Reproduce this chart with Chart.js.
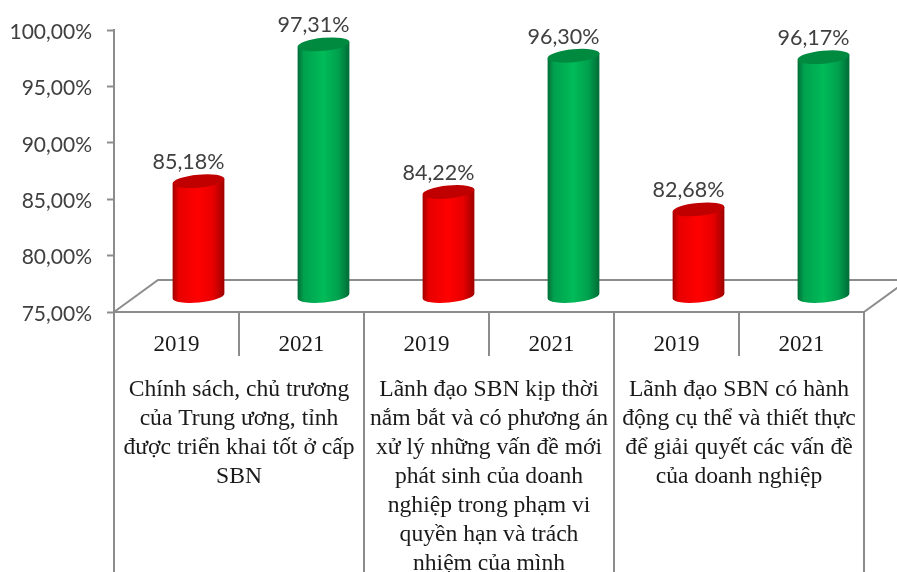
<!DOCTYPE html>
<html lang="vi">
<head>
    <meta charset="UTF-8">
    <title>Chart</title>
    <script src="https://cdn.jsdelivr.net/npm/chart.js"></script>
    <style>
        html, body { margin: 0; padding: 0; background: #fff; }
        #wrap { width: 897px; height: 572px; }
    </style>
</head>
<body>
    <div id="wrap"><canvas id="chart"></canvas></div>
    <script>
        const years = ['2019', '2021', '2019', '2021', '2019', '2021'];
        const values = [85.18, 97.31, 84.22, 96.30, 82.68, 96.17];
        const groupLabels = [
            ['Chính sách, chủ trương', 'của Trung ương, tỉnh', 'được triển khai tốt ở cấp', 'SBN'],
            ['Lãnh đạo SBN kịp thời', 'nắm bắt và có phương án', 'xử lý những vấn đề mới', 'phát sinh của doanh', 'nghiệp trong phạm vi', 'quyền hạn và trách', 'nhiệm của mình'],
            ['Lãnh đạo SBN có hành', 'động cụ thể và thiết thực', 'để giải quyết các vấn đề', 'của doanh nghiệp']
        ];

        const axisColor = '#8c8c8c';
        const depthX = 44, depthY = -32;

        // formats like 85,18%
        function pct(v) { return v.toFixed(2).replace('.', ',') + '%'; }

        function cylinder(ctx, cx, topY, botY, rx, colors) {
            const ry = 6.5, rot = -0.095;
            const dx = rx * Math.cos(rot), dy = rx * Math.sin(rot);
            const g = ctx.createLinearGradient(cx - rx, 0, cx + rx, 0);
            g.addColorStop(0, colors[0]);
            g.addColorStop(0.12, colors[1]);
            g.addColorStop(0.5, colors[2]);
            g.addColorStop(0.78, colors[1]);
            g.addColorStop(1, colors[0]);
            ctx.beginPath();
            ctx.moveTo(cx - dx, topY - dy);
            ctx.lineTo(cx - dx, botY - dy);
            ctx.ellipse(cx, botY, rx, ry, rot, Math.PI, 0, true);
            ctx.lineTo(cx + dx, topY + dy);
            ctx.closePath();
            ctx.fillStyle = g;
            ctx.fill();
            ctx.beginPath();
            ctx.ellipse(cx, topY, rx, ry, rot, 0, Math.PI * 2);
            ctx.fillStyle = colors[3];
            ctx.fill();
        }

        const frame3d = {
            id: 'frame3d',
            beforeDatasetsDraw(chart) {
                const { ctx, chartArea: a } = chart;
                ctx.save();
                ctx.strokeStyle = axisColor;
                ctx.lineWidth = 2;
                ctx.beginPath();
                ctx.moveTo(a.left, a.bottom);
                ctx.lineTo(a.left + depthX, a.bottom + depthY);
                ctx.lineTo(897, a.bottom + depthY);
                ctx.moveTo(a.right, a.bottom);
                ctx.lineTo(a.right + depthX, a.bottom + depthY);
                ctx.stroke();
                ctx.restore();
            },
            afterDatasetsDraw(chart) {
                const { ctx, chartArea: a, scales } = chart;
                const meta = chart.getDatasetMeta(0);
                ctx.save();
                meta.data.forEach((el, i) => {
                    const colors = i % 2 === 0
                        ? ['#9e0000', '#e80000', '#ff0000', '#c00000']
                        : ['#006b36', '#00a14e', '#00bb58', '#008a40'];
                    const cx = el.x + depthX / 2;
                    const base = scales.y.getPixelForValue(75) + depthY / 2;
                    cylinder(ctx, cx, el.y + depthY / 2, base, el.width / 2, colors);
                    ctx.fillStyle = '#404040';
                    ctx.font = '21.5px Lato';
                    ctx.textAlign = 'center';
                    ctx.textBaseline = 'middle';
                    ctx.fillText(pct(values[i]), cx - 10, el.y + depthY / 2 - 19);
                });

                // separators under the axis, long ones between the groups
                const step = (a.right - a.left) / years.length;
                ctx.strokeStyle = axisColor;
                ctx.lineWidth = 2;
                for (let i = 0; i <= years.length; i++) {
                    const x = scales.x.getPixelForValue(0) - step / 2 + i * step;
                    ctx.beginPath();
                    ctx.moveTo(x, a.bottom);
                    ctx.lineTo(x, i % 2 === 0 ? 572 : 356);
                    ctx.stroke();
                }

                // group captions
                ctx.fillStyle = '#1a1a1a';
                ctx.font = '23.6px "Liberation Serif"';
                ctx.textAlign = 'center';
                ctx.textBaseline = 'middle';
                groupLabels.forEach((lines, g) => {
                    const x = scales.x.getPixelForValue(g * 2) + step / 2;
                    lines.forEach((line, j) => ctx.fillText(line, x, 390 + j * 29));
                });
                ctx.restore();
            }
        };

        new Chart(document.getElementById('chart').getContext('2d'), {
            type: 'bar',
            data: {
                labels: years,
                datasets: [{
                    data: values,
                    backgroundColor: 'transparent',
                    barPercentage: 1,
                    categoryPercentage: 0.416
                }]
            },
            options: {
                responsive: true,
                maintainAspectRatio: false,
                animation: false,
                layout: { padding: { top: 30, right: 33, left: 0, bottom: 0 } },
                plugins: { legend: { display: false }, tooltip: { enabled: false } },
                scales: {
                    x: {
                        afterFit(s) { s.height = 260; },
                        grid: { display: false },
                        border: { color: axisColor, width: 2 },
                        ticks: { color: '#1a1a1a', padding: 11, font: { family: 'Liberation Serif', size: 23 } }
                    },
                    y: {
                        min: 75,
                        max: 100,
                        afterFit(s) { s.width = 114; },
                        grid: { drawOnChartArea: false, color: axisColor, tickLength: 7, tickWidth: 2 },
                        border: { color: axisColor, width: 2 },
                        ticks: {
                            stepSize: 5,
                            color: '#404040',
                            padding: 15,
                            labelOffset: 2,
                            font: { family: 'Lato', size: 21 },
                            callback: v => pct(v)
                        }
                    }
                }
            },
            plugins: [frame3d]
        });
    </script>
</body>
</html>
